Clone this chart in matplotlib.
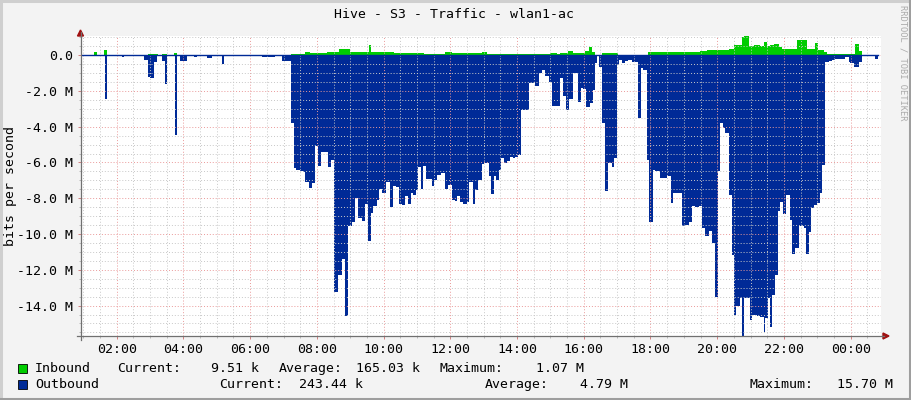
#!/usr/bin/env python3
"""
Redraw the rrdtool traffic graph for wlan1-ac (Hive - S3) with matplotlib.
"""

import matplotlib
matplotlib.use("Agg")
import matplotlib.pyplot as plt
from matplotlib.lines import Line2D
from matplotlib.patches import Polygon, Rectangle
from matplotlib.ticker import MultipleLocator, FuncFormatter

# Figure size in pixels (dpi 100)
W, H = 911, 400

# Colours
BACK = "#f3f3f3"
IN_COLOR = "#00cc00"
OUT_COLOR = "#002a97"

# Time is in hours of the day, 24.xx means just after midnight.
# Values are in Mbit/s, step starts.
out_hours = [0.93, 1.35, 1.40, 1.65, 1.70, 2.15, 2.23, 2.83, 2.93, 3.00, 3.12, 3.22,
             3.35, 3.45, 3.52, 3.75, 3.80, 3.90, 4.10, 4.32, 4.42, 4.70, 4.85, 5.15,
             5.22, 6.35, 6.75, 6.95, 7.22, 7.315, 7.375, 7.495, 7.575, 7.645, 7.775,
             7.845, 7.945, 8.045, 8.125, 8.345, 8.415, 8.515, 8.645, 8.745, 8.845,
             8.945, 9.045, 9.145, 9.245, 9.345, 9.445, 9.545, 9.615, 9.695, 9.795,
             9.875, 9.945, 10.075, 10.195, 10.275, 10.375, 10.455, 10.545, 10.645,
             10.745, 10.815, 10.875, 10.975, 11.045, 11.115, 11.195, 11.275, 11.445,
             11.515, 11.615, 11.715, 11.845, 11.945, 12.045, 12.145, 12.215, 12.295,
             12.375, 12.495, 12.575, 12.675, 12.745, 12.845, 12.945, 13.015, 13.145,
             13.215, 13.295, 13.375, 13.445, 13.515, 13.595, 13.695, 13.795, 13.875,
             13.945, 14.015, 14.115, 14.345, 14.495, 14.545, 14.645, 14.745, 14.845,
             14.945, 15.045, 15.295, 15.39, 15.47, 15.57, 15.69, 15.84, 15.91, 15.99,
             16.07, 16.19, 16.27, 16.34, 16.39, 16.47, 16.54, 16.64, 16.74, 16.84,
             16.91, 17.01, 17.07, 17.14, 17.24, 17.34, 17.44, 17.64, 17.71, 17.79,
             17.91, 17.97, 18.07, 18.14, 18.29, 18.39, 18.51, 18.61, 18.69, 18.94,
             19.04, 19.14, 19.24, 19.32, 19.44, 19.54, 19.64, 19.74, 19.84, 19.94,
             20.01, 20.09, 20.17, 20.24, 20.34, 20.44, 20.51, 20.57, 20.67, 20.74,
             20.79, 20.87, 20.97, 21.04, 21.11, 21.19, 21.29, 21.39, 21.44, 21.51,
             21.59, 21.64, 21.74, 21.81, 21.89, 21.97, 22.07, 22.17, 22.24, 22.34,
             22.44, 22.59, 22.67, 22.74, 22.81, 22.89, 22.99, 23.07, 23.14, 23.24,
             23.34, 23.44, 23.54, 23.69, 23.84, 23.94, 23.99, 24.09, 24.17, 24.24,
             24.34, 24.74, 24.81]
out_mbit = [0, 0.05, 0, 2.45, 0, 0.1, 0, 0.25, 1.2, 1.3, 0.4, 0,
            0.3, 1.6, 0, 4.46, 0, 0.3, 0, 0.1, 0, 0.15, 0, 0.5,
            0, 0.12, 0, 0.3, 3.77, 6.3, 6.4, 6.5, 6.55, 7.1, 7.4,
            7.15, 5.07, 6.2, 5.4, 6.25, 5.85, 13.25, 12.3, 11.4, 14.6,
            9.57, 9.35, 8.0, 9.1, 9.25, 8.3, 10.4, 8.8, 8.45, 8.1,
            7.5, 7.7, 7.1, 8.5, 7.3, 7.35, 8.3, 8.4, 7.9,
            8.3, 7.7, 7.8, 7.55, 6.23, 7.5, 6.19, 6.9, 7.3,
            7.0, 6.7, 6.6, 7.5, 7.25, 8.1, 8.15, 7.85, 8.2,
            8.3, 8.2, 7.1, 8.3, 7.55, 7.0, 6.1, 6.05, 6.78,
            7.75, 6.78, 7.0, 6.4, 5.75, 6.04, 5.9, 5.67, 5.75,
            5.67, 5.6, 3.07, 1.58, 1.5, 1.73, 0.99, 0.84, 1.17,
            1.5, 2.85, 1.3, 2.3, 3.07, 2.47, 1.0, 2.6, 1.86, 1.9,
            2.9, 2.7, 1.95, 0.43, 0.05, 0.69, 3.8, 7.6, 6.04, 6.26,
            5.76, 0.56, 0.25, 0.43, 0.33, 0.28, 0.37, 3.53, 0.74, 0.84,
            5.85, 9.3, 6.41, 6.5, 6.88, 6.85, 6.78, 8.27, 7.71, 9.57,
            9.48, 9.3, 8.46, 8.5, 8.46, 9.67, 10.1, 9.85, 10.5, 13.5,
            6.5, 3.8, 4.1, 4.37, 7.8, 11.2, 14.5, 14.0, 13.6, 15.7,
            13.6, 13.55, 14.8, 14.5, 14.55, 14.6, 14.65, 15.5, 14.7, 13.6,
            15.2, 13.4, 12.3, 8.74, 8.2, 8.9, 7.8, 9.24, 11.1, 10.8,
            9.57, 9.67, 11.1, 9.9, 8.55, 8.36, 8.27, 7.7, 6.13, 0.37,
            0.32, 0.28, 0.24, 0.2, 0.1, 0.37, 0.46, 0.69, 0.65, 0.37,
            0.02, 0.24, 0.24]

in_hours = [0.93, 1.33, 1.40, 1.62, 1.72, 2.95, 3.25, 3.35, 3.52, 3.73, 3.81, 7.22,
            7.65, 7.80, 8.30, 8.65, 9.00, 9.55, 9.62, 10.30, 11.20, 11.85, 12.05,
            12.95, 13.10, 14.00, 15.00, 15.20, 15.29, 15.54, 15.69, 16.04, 16.17,
            16.24, 16.34, 16.54, 17.04, 17.94, 18.29, 19.49, 19.69, 20.34, 20.49,
            20.74, 20.79, 20.94, 21.09, 21.29, 21.41, 21.49, 21.59, 21.69, 21.77,
            21.84, 21.94, 22.39, 22.69, 22.94, 23.01, 23.19, 23.29, 23.84, 24.14,
            24.24, 24.34, 24.81]
in_mbit = [0, 0.15, 0, 0.28, 0, 0.07, 0, 0.06, 0, 0.12, 0, 0.09,
           0.2, 0.1, 0.17, 0.37, 0.15, 0.56, 0.15, 0.12, 0.08, 0.15, 0.1,
           0.18, 0.08, 0.06, 0.12, 0.07, 0.13, 0.22, 0.13, 0.24, 0.46,
           0.15, 0.0, 0.13, 0.02, 0.17, 0.15, 0.24, 0.28, 0.37, 0.56,
           1.02, 1.07, 0.5, 0.56, 0.5, 0.74, 0.5, 0.56, 0.65, 0.61,
           0.46, 0.37, 0.84, 0.37, 0.69, 0.28, 0.18, 0.05, 0.09, 0.65,
           0.24, 0.01, 0.01]

# Legend rows: label and (stat name, value) pairs
legend_rows = [
    ("Inbound", IN_COLOR, [("Current:", "9.51 k"), ("Average:", "165.03 k"), ("Maximum:", "1.07 M")]),
    ("Outbound", OUT_COLOR, [("Current:", "243.44 k"), ("Average:", "4.79 M"), ("Maximum:", "15.70 M")]),
]

FONT = "DejaVu Sans Mono"


def fx(x):
    """pixel x -> figure fraction"""
    return x / W


def fy(y):
    """pixel y (from top) -> figure fraction"""
    return 1 - y / H


def y_label(v, pos):
    if abs(v) < 1e-9:
        return "0.0"
    return f"{v:.1f} M"


def x_label(h, pos):
    return f"{int(round(h)) % 24:02d}:00"


def draw_frame(fig):
    # 3D-ish border as rrdtool does it
    for xs, ys, c in [([0, W], [1, 1], "#cfcfcf"), ([1, 1], [0, H], "#cfcfcf"),
                      ([0, W], [H - 1.5, H - 1.5], "#9e9e9e"), ([W - 1.5, W - 1.5], [0, H], "#9e9e9e")]:
        fig.add_artist(Line2D([fx(x) for x in xs], [fy(y) for y in ys], color=c, lw=2.2))

    # axis lines with arrows
    fig.add_artist(Line2D([fx(80.5), fx(80.5)], [fy(340), fy(32)], color="#707070", lw=0.9))
    fig.add_artist(Line2D([fx(77), fx(884)], [fy(336), fy(336)], color="#707070", lw=0.9))
    fig.add_artist(Polygon([(fx(77.5), fy(36)), (fx(83.5), fy(36)), (fx(80.5), fy(30))],
                           closed=True, color="#a01010", transform=fig.transFigure))
    fig.add_artist(Polygon([(fx(883), fy(333)), (fx(883), fy(339)), (fx(889), fy(336))],
                           closed=True, color="#a01010", transform=fig.transFigure))


def draw_legend(fig):
    # token positions in pixels: (left of name, right edge of value) per stat
    stat_pos = [
        [(116.7, 259.3), (279, 420), (440, 584)],
        [(219.5, 363), (485, 628), (750, 893)],
    ]
    row_y = [368.3, 384.3]
    for (label, color, stats), pos, y in zip(legend_rows, stat_pos, row_y):
        fig.add_artist(Rectangle((fx(17.5), fy(y + 4.3)), 9 / W, 8.5 / H, transform=fig.transFigure,
                                 facecolor=color, edgecolor="black", lw=0.6))
        fig.text(fx(35), fy(y), label, fontsize=9.5, family=FONT, va="center", ha="left")
        for (name, value), (x0, x1) in zip(stats, pos):
            fig.text(fx(x0), fy(y), name, fontsize=9.5, family=FONT, va="center", ha="left")
            fig.text(fx(x1), fy(y), value, fontsize=9.5, family=FONT, va="center", ha="right")


def main():
    fig = plt.figure(figsize=(W / 100, H / 100), dpi=100, facecolor=BACK)
    ax = fig.add_axes([fx(81), 64 / H, 800 / W, 300 / H])
    ax.set_facecolor("white")

    # Data areas
    ax.fill_between(out_hours, [-v for v in out_mbit], 0, step="post",
                    facecolor=OUT_COLOR, edgecolor="none", zorder=1)
    ax.fill_between(in_hours, in_mbit, 0, step="post",
                    facecolor=IN_COLOR, edgecolor="none", zorder=1)
    ax.plot([out_hours[0], out_hours[-1]], [0, 0], color=OUT_COLOR, lw=1, zorder=3)

    ax.set_xlim(0.93, 24.91)
    ax.set_ylim(-15.70, 1.07)

    ax.xaxis.set_major_locator(MultipleLocator(2))
    ax.xaxis.set_minor_locator(MultipleLocator(0.5))
    ax.yaxis.set_major_locator(MultipleLocator(2))
    ax.yaxis.set_minor_locator(MultipleLocator(0.5))
    ax.xaxis.set_major_formatter(FuncFormatter(x_label))
    ax.yaxis.set_major_formatter(FuncFormatter(y_label))

    # Grid on top of the data, like rrdtool
    ax.set_axisbelow(False)
    ax.grid(which="minor", color="#c8c8c8", linestyle=(0, (1, 2)), linewidth=0.7)
    ax.grid(which="major", color="#ea9a9a", linestyle=(0, (1, 2)), linewidth=0.7)

    for s in ax.spines.values():
        s.set_visible(False)
    ax.tick_params(which="major", direction="out", length=2.5, width=0.7, color="#d08080",
                   labelsize=9.5, pad=3.5)
    ax.tick_params(which="minor", direction="out", length=1.5, width=0.6, color="#b0b0b0")
    ax.tick_params(axis="x", which="major", pad=2.5)
    for lbl in ax.get_xticklabels() + ax.get_yticklabels():
        lbl.set_family(FONT)

    draw_frame(fig)

    # Titles and labels
    fig.text(fx(454.5), fy(14), "Hive - S3 - Traffic - wlan1-ac", fontsize=9.5, family=FONT,
             ha="center", va="center")
    fig.text(fx(11), fy(186), "bits per second", fontsize=9.5, family=FONT,
             rotation=90, ha="center", va="center")
    fig.text(fx(903), fy(5), "RRDTOOL / TOBI OETIKER", fontsize=6.3, family=FONT,
             rotation=270, ha="center", va="top", color="#aaaaaa")

    draw_legend(fig)

    fig.savefig("out.png", dpi=100, facecolor=fig.get_facecolor())
    plt.close(fig)


if __name__ == "__main__":
    main()
